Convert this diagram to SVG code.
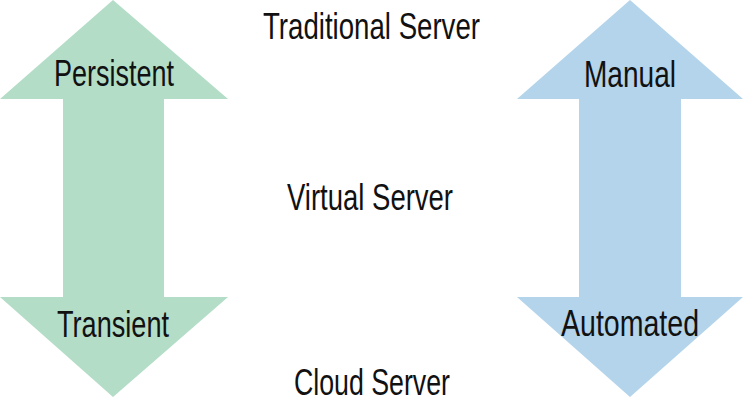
<svg xmlns="http://www.w3.org/2000/svg" width="744" height="407" viewBox="0 0 744 407">
<style>
text{font-family:"Liberation Sans",Arial,sans-serif;font-size:37px;fill:#111;text-anchor:middle}
.g{fill:#b3ddc7}
.b{fill:#b3d4ea}
</style>
<rect width="744" height="407" fill="#fff"/>
<g id="persistence-arrow">
<polygon class="g" points="113,0 228,99 164,99 164,297 228,297 113,397 0,297 63,297 63,99 0,99"/>
<text x="114" y="86" textLength="120" lengthAdjust="spacingAndGlyphs">Persistent</text>
<text x="113" y="337" textLength="112" lengthAdjust="spacingAndGlyphs">Transient</text>
</g>
<g id="automation-arrow">
<polygon class="b" points="630,0 743,99 681,99 681,297 743,297 630,397 517,297 579,297 579,99 517,99"/>
<text x="630" y="87" textLength="92" lengthAdjust="spacingAndGlyphs">Manual</text>
<text x="630" y="336" textLength="138" lengthAdjust="spacingAndGlyphs">Automated</text>
</g>
<g id="traditional-server"><text x="371.5" y="39" textLength="217" lengthAdjust="spacingAndGlyphs">Traditional Server</text></g>
<g id="virtual-server"><text x="370" y="210" textLength="166" lengthAdjust="spacingAndGlyphs">Virtual Server</text></g>
<g id="cloud-server"><text x="372" y="395" textLength="156" lengthAdjust="spacingAndGlyphs">Cloud Server</text></g>
<g id="connectors"></g>
</svg>
